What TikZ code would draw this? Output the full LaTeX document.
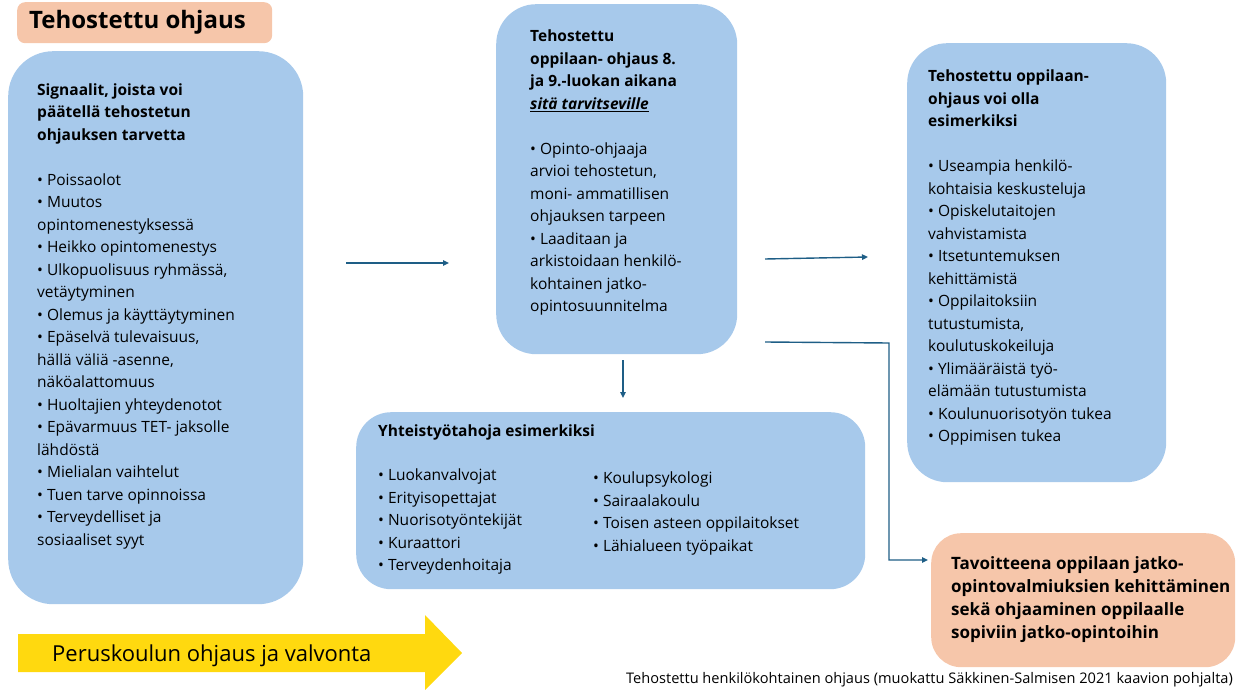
\documentclass[tikz,border=0pt]{standalone}
\usepackage{fontspec}
\setmainfont{Open Sans}
\usetikzlibrary{arrows.meta}
\definecolor{boxblue}{RGB}{167,201,235}
\definecolor{boxpeach}{RGB}{246,198,170}
\definecolor{arrowyellow}{RGB}{255,217,15}
\definecolor{conncol}{RGB}{30,94,134}
\begin{document}
\begin{tikzpicture}[x=1pt,y=-1pt,
  bluebox/.style={fill=boxblue, draw=none, rounded corners=#1, anchor=north west, inner sep=0pt},
  peachbox/.style={fill=boxpeach, draw=none, rounded corners=#1, anchor=north west, inner sep=0pt},
  txt/.style={anchor=north west, inner sep=0pt, align=left, font=\fontsize{15.5}{22.5}\selectfont},
  btxt/.style={anchor=north west, inner sep=0pt, align=left, font=\fontsize{17}{23}\selectfont\bfseries},
  conn/.style={draw=conncol, line width=1.4pt, -{Triangle[length=6pt,width=5.5pt]}},
  connline/.style={draw=conncol, line width=1.4pt}
]
\useasboundingbox (0,0) rectangle (1236,690);

% boxes
\node[peachbox=8pt, minimum width=255pt, minimum height=41pt] (title) at (17,2) {};
\node[anchor=west, inner sep=0pt, font=\fontsize{24}{28}\selectfont\bfseries] (titletext) at (29,22) {Tehostettu ohjaus};

\node[bluebox=45pt, minimum width=295pt, minimum height=553pt] (signals) at (8,51) {};
\node[bluebox=40pt, minimum width=241pt, minimum height=350pt] (plan) at (496,4) {};
\node[bluebox=40pt, minimum width=259pt, minimum height=439pt] (forms) at (907,43) {};
\node[bluebox=35pt, minimum width=509pt, minimum height=177pt] (partners) at (356,412) {};
\node[peachbox=30pt, minimum width=304pt, minimum height=134pt] (goal) at (931,533) {};

% texts
\node[txt] (signalstext) at (37,83.5) {\textbf{Signaalit, joista voi}\\
\textbf{päätellä tehostetun}\\
\textbf{ohjauksen tarvetta}\\[22.5pt]
• Poissaolot\\
• Muutos\\
opintomenestyksessä\\
• Heikko opintomenestys\\
• Ulkopuolisuus ryhmässä,\\
vetäytyminen\\
• Olemus ja käyttäytyminen\\
• Epäselvä tulevaisuus,\\
hällä väliä -asenne,\\
näköalattomuus\\
• Huoltajien yhteydenotot\\
• Epävarmuus TET- jaksolle\\
lähdöstä\\
• Mielialan vaihtelut\\
• Tuen tarve opinnoissa\\
• Terveydelliset ja\\
sosiaaliset syyt};

\node[txt] (plantext) at (530,30) {\textbf{Tehostettu}\\
\textbf{oppilaan- ohjaus 8.}\\
\textbf{ja 9.-luokan aikana}\\
\underline{\textbf{\textit{sitä tarvitseville}}}\\[22.5pt]
• Opinto-ohjaaja\\
arvioi tehostetun,\\
moni- ammatillisen\\
ohjauksen tarpeen\\
• Laaditaan ja\\
arkistoidaan henkilö-\\
kohtainen jatko-\\
opintosuunnitelma};

\node[txt] (formstext) at (928,70) {\textbf{Tehostettu oppilaan-}\\
\textbf{ohjaus voi olla}\\
\textbf{esimerkiksi}\\[22.5pt]
• Useampia henkilö-\\
kohtaisia keskusteluja\\
• Opiskelutaitojen\\
vahvistamista\\
• Itsetuntemuksen\\
kehittämistä\\
• Oppilaitoksiin\\
tutustumista,\\
koulutuskokeiluja\\
• Ylimääräistä työ-\\
elämään tutustumista\\
• Koulunuorisotyön tukea\\
• Oppimisen tukea};

\node[txt] (partnershead) at (378,425) {\textbf{Yhteistyötahoja esimerkiksi}};
\node[txt] (partnersA) at (378,469) {• Luokanvalvojat\\
• Erityisopettajat\\
• Nuorisotyöntekijät\\
• Kuraattori\\
• Terveydenhoitaja};
\node[txt] (partnersB) at (593,472) {• Koulupsykologi\\
• Sairaalakoulu\\
• Toisen asteen oppilaitokset\\
• Lähialueen työpaikat};

\node[btxt] (goaltext) at (951,556) {Tavoitteena oppilaan jatko-\\
opintovalmiuksien kehittäminen\\
sekä ohjaaminen oppilaalle\\
sopiviin jatko-opintoihin};

% connectors
\coordinate (a1s) at (346,263);
\coordinate (a1e) at (449,263);
\coordinate (a2s) at (765,259);
\coordinate (a2e) at (868,257);
\coordinate (a3s) at (623,360);
\coordinate (a3e) at (623,398);
\coordinate (a4s) at (765,342);
\coordinate (a4e) at (928,560);
\draw[conn] (a1s) -- (a1e);
\draw[conn] (a2s) -- (a2e);
\draw[conn] (a3s) -- (a3e);
\draw[conn] (a4s) -- (889,343) |- (a4e);

% yellow arrow
\fill[arrowyellow] (18,634) -- (425,634) -- (425,615) -- (462,653) -- (425,690) -- (425,672) -- (18,672) -- cycle;
\node[anchor=west, inner sep=0pt, font=\fontsize{22}{26}\selectfont] (ytext) at (52,656) {Peruskoulun ohjaus ja valvonta};

% caption
\node[anchor=east, inner sep=0pt, font=\fontsize{14.6}{17}\selectfont] (caption) at (1233,680) {Tehostettu henkilökohtainen ohjaus (muokattu Säkkinen-Salmisen 2021 kaavion pohjalta)};
\end{tikzpicture}
\end{document}
